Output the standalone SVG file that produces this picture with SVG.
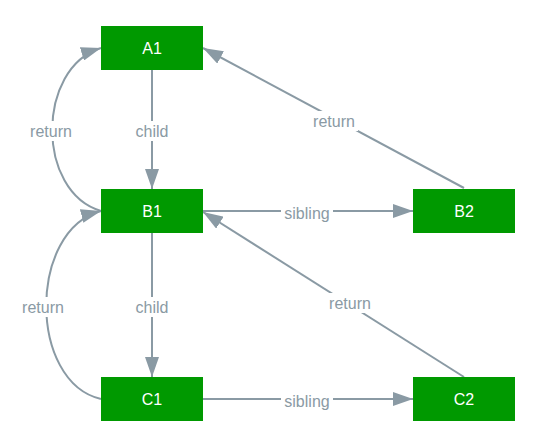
<svg xmlns="http://www.w3.org/2000/svg" width="541" height="447" viewBox="0 0 541 447">
<style>
.node rect{fill:#009900;}
.node text{fill:#ffffff;font-family:"Liberation Sans",Arial,sans-serif;font-size:16px;text-anchor:middle;dominant-baseline:central;}
.edge{fill:none;stroke:#8a9aa4;stroke-width:2;}
.lbg{fill:#ffffff;}
.lbl{fill:#8a9aa4;font-family:"Liberation Sans",Arial,sans-serif;font-size:16px;text-anchor:middle;dominant-baseline:central;}
</style>
<defs>
<marker id="arrL" viewBox="0 0 20 14" refX="20" refY="7" markerWidth="20" markerHeight="14" markerUnits="userSpaceOnUse" orient="auto">
<path d="M0,0 L20,7 L0,14 Z" fill="#8a9aa4"/>
</marker>
</defs>
<rect width="541" height="447" fill="#ffffff"/>
<g id="connectors">
<path class="edge" d="M152,70 L152,189" marker-end="url(#arrL)"/>
<path class="edge" d="M152,233 L152,377" marker-end="url(#arrL)"/>
<path class="edge" d="M101,211 C36,192 36,68 101,48" marker-end="url(#arrL)"/>
<path class="edge" d="M101,399 C28,382 28,230 101,211" marker-end="url(#arrL)"/>
<path class="edge" d="M464,188 L203,48" marker-end="url(#arrL)"/>
<path class="edge" d="M464,377 L203,212" marker-end="url(#arrL)"/>
<path class="edge" d="M203,211 L413,211" marker-end="url(#arrL)"/>
<path class="edge" d="M203,399 L413,399" marker-end="url(#arrL)"/>
<g>
<rect class="lbg" x="132" y="121" width="40" height="20"/>
<text class="lbl" x="152" y="131">child</text>
<rect class="lbg" x="132" y="297" width="40" height="20"/>
<text class="lbl" x="152" y="307">child</text>
<rect class="lbg" x="27" y="121" width="48" height="20"/>
<text class="lbl" x="51" y="131">return</text>
<rect class="lbg" x="19" y="297" width="48" height="20"/>
<text class="lbl" x="43" y="307">return</text>
<rect class="lbg" x="310" y="111" width="48" height="20"/>
<text class="lbl" x="334" y="121">return</text>
<rect class="lbg" x="326" y="293" width="48" height="20"/>
<text class="lbl" x="350" y="303">return</text>
<rect class="lbg" x="281" y="203" width="52" height="20"/>
<text class="lbl" x="307" y="213">sibling</text>
<rect class="lbg" x="281" y="391" width="52" height="20"/>
<text class="lbl" x="307" y="401">sibling</text>
</g>
</g>
<g id="A1" class="node"><rect x="101" y="26" width="102" height="44"/><text x="152" y="48">A1</text></g>
<g id="B1" class="node"><rect x="101" y="189" width="102" height="44"/><text x="152" y="211">B1</text></g>
<g id="B2" class="node"><rect x="413" y="189" width="102" height="44"/><text x="464" y="211">B2</text></g>
<g id="C1" class="node"><rect x="101" y="377" width="102" height="44"/><text x="152" y="399">C1</text></g>
<g id="C2" class="node"><rect x="413" y="377" width="102" height="44"/><text x="464" y="399">C2</text></g>
</svg>
